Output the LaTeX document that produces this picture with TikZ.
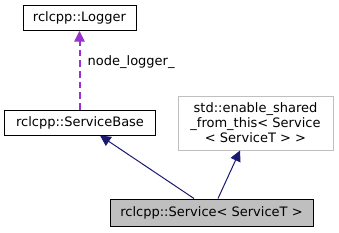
\documentclass[tikz,border=0pt]{standalone}
\usepackage{fontspec}
\setmainfont{DejaVu Sans}
\usetikzlibrary{arrows.meta}
\definecolor{navy}{HTML}{191970}
\definecolor{orchid}{HTML}{9A32CD}
\definecolor{boxgray}{HTML}{BFBFBF}
\begin{document}
\begin{tikzpicture}[x=0.75pt,y=-0.75pt,
  txt/.style={font=\fontsize{9.75}{11.25}\selectfont},
  cls/.style={txt,draw=black,fill=white,inner sep=0pt,line width=0.75pt},
  inh/.style={draw=navy,line width=0.75pt,-{Triangle[length=8pt,width=8pt,fill=navy]}},
  use/.style={color=orchid,draw=orchid,line width=1.5pt,dash pattern=on 5pt off 3pt,-{Triangle[length=8pt,width=8pt,fill=orchid,line width=0.75pt]}}]
\useasboundingbox (0,0) rectangle (339,232);
\node[cls,minimum width=113*0.75pt,minimum height=25*0.75pt] (logger) at (79.5,18) {rclcpp::Logger};
\node[cls,minimum width=151*0.75pt,minimum height=25*0.75pt] (base) at (80,122.5) {rclcpp::ServiceBase};
\node[cls,draw=boxgray,minimum width=155*0.75pt,minimum height=54*0.75pt,align=center] (esf) at (255.5,123) {std::enable\_shared\\\_from\_this< Service\\< ServiceT > >};
\node[cls,fill=boxgray,minimum width=203*0.75pt,minimum height=27*0.75pt] (svc) at (211.5,212.5) {rclcpp::Service< ServiceT >};
\draw[use] (base.north -| logger.south) -- (logger.south);
\node[txt,anchor=west] (lbl) at (83,62) {node\_logger\_};
\draw[inh] (svc.north -| 194,0) -- (base.south -| 100,0);
\draw[inh] (svc.north -| 218,0) -- (esf.south -| 240,0);
\end{tikzpicture}
\end{document}
